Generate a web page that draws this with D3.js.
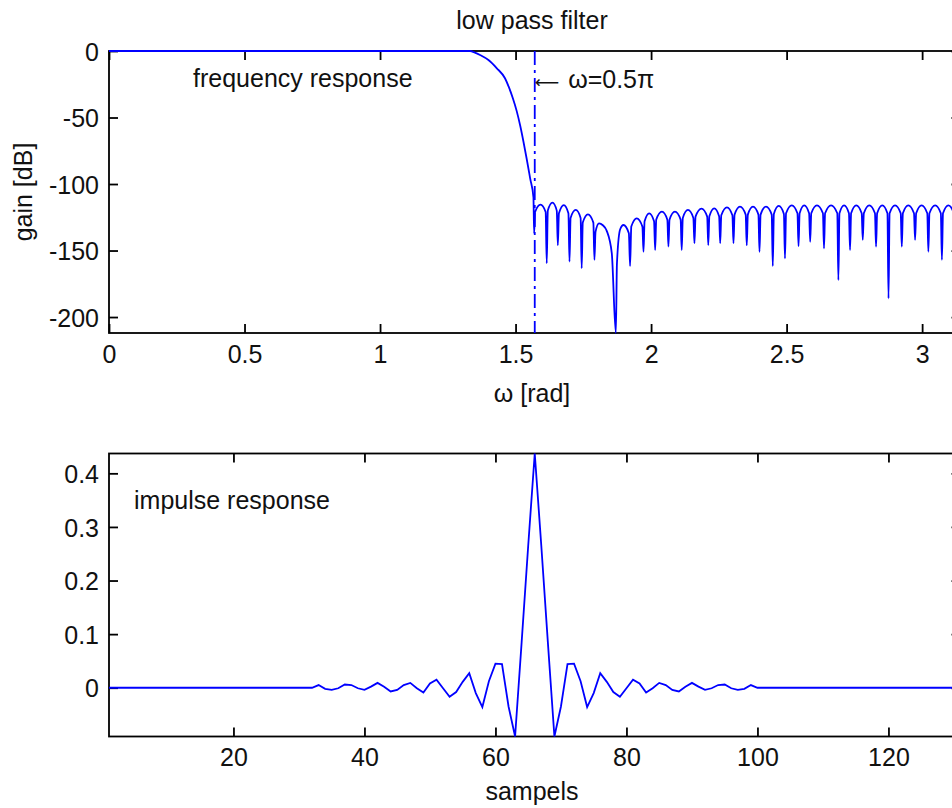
<!DOCTYPE html>
<html>
<head>
<meta charset="utf-8">
<script src="https://cdn.jsdelivr.net/npm/d3@7"></script>
<style>
  body { margin: 0; background: #fff; }
  svg { display: block; background: #fff; }
  text { font-family: "Liberation Sans", Arial, sans-serif; fill: #111; }
</style>
</head>
<body>
<div id="chart"></div>
<script>
// frequency response: [omega (rad), gain (dB)]
const passband = [
  [0, 0], [1.332, 0], [1.350, -1.2], [1.369, -3], [1.400, -6.8], [1.431, -13],
  [1.461, -20.5], [1.475, -27], [1.490, -35.5], [1.504, -45], [1.517, -56],
  [1.529, -68], [1.541, -81], [1.554, -96], [1.566, -110]
];
const stopband = [
  [1.5685, -137], [1.572, -121], [1.592, -115.5], [1.611, -121],
  [1.615, -159.6], [1.619, -120], [1.636, -114], [1.652, -120],
  [1.656, -146], [1.660, -122], [1.678, -115.8], [1.695, -122],
  [1.699, -158.4], [1.703, -125.5], [1.722, -119.5], [1.740, -125.5],
  [1.744, -163.4], [1.748, -129], [1.767, -122.8], [1.787, -129],
  [1.791, -157], [1.795, -136], [1.808, -129.6], [1.822, -131], [1.836, -135], [1.855, -152],
  [1.870, -212], [1.874, -160], [1.886, -134], [1.898, -130.8], [1.918, -137],
  [1.9225, -161.7], [1.927, -132], [1.947, -125.8], [1.968, -132],
  [1.972, -150.9], [1.976, -128], [1.993, -122], [2.011, -128],
  [2.015, -149.6], [2.019, -126.8], [2.040, -120.8], [2.060, -126.8],
  [2.064, -147], [2.068, -126.8], [2.088, -120.8], [2.109, -126.8],
  [2.113, -149.6], [2.117, -125.5], [2.136, -119.5], [2.156, -125.5],
  [2.160, -144.6], [2.164, -124.5], [2.186, -118.5], [2.207, -124.5],
  [2.211, -146], [2.215, -124.3], [2.233, -118.3], [2.251, -124.3],
  [2.255, -144.6], [2.259, -123.5], [2.280, -117.5], [2.300, -123.5],
  [2.304, -144.6], [2.308, -123], [2.328, -117], [2.349, -123],
  [2.353, -146], [2.357, -123], [2.376, -117], [2.396, -123],
  [2.400, -150.9], [2.404, -123], [2.424, -117], [2.445, -123],
  [2.449, -161.7], [2.453, -122.5], [2.471, -116.5], [2.490, -122.5],
  [2.494, -155.9], [2.498, -122], [2.519, -116], [2.540, -122],
  [2.544, -146.6], [2.548, -122], [2.565, -116], [2.583, -122],
  [2.587, -143.4], [2.591, -122], [2.612, -116], [2.634, -122],
  [2.638, -148.4], [2.642, -122], [2.664, -116], [2.687, -122],
  [2.691, -172.2], [2.695, -122], [2.712, -116], [2.730, -122],
  [2.734, -149.6], [2.738, -122], [2.757, -116], [2.777, -122],
  [2.781, -142], [2.785, -122], [2.805, -116], [2.826, -122],
  [2.830, -147], [2.834, -122], [2.853, -116], [2.872, -122],
  [2.876, -186], [2.880, -122], [2.900, -116], [2.921, -122],
  [2.925, -147], [2.929, -122], [2.949, -116], [2.970, -122],
  [2.974, -142], [2.978, -122], [2.998, -116], [3.019, -122],
  [3.023, -150.9], [3.027, -122], [3.048, -116], [3.069, -122],
  [3.073, -157], [3.077, -122], [3.097, -116], [3.117, -122],
  [3.121, -150], [3.125, -122], [3.1416, -116]
];
const cutoff = 0.5 * Math.PI;
const freqTicks = [0, 0.5, 1, 1.5, 2, 2.5, 3];
const gainTicks = [0, -50, -100, -150, -200];

// impulse response: samples 1..131, non-zero taps from 33 to 99
const numSamples = 131;
const firstTap = 33;
const taps = [
  0.005, -0.002, -0.004, -0.001, 0.006, 0.005, -0.001, -0.004, 0.002, 0.009,
  0.002, -0.007, -0.004, 0.005, 0.009, -0.001, -0.009, 0.008, 0.015, -0.001,
  -0.017, -0.008, 0.011, 0.027, -0.010, -0.036, 0.012, 0.045, 0.044, -0.035,
  -0.091, 0.085, 0.265,
  0.437,
  0.265, 0.085, -0.091,
  -0.035, 0.044, 0.045, 0.012, -0.036, -0.010, 0.027, 0.011, -0.008, -0.017,
  -0.001, 0.015, 0.008, -0.009, -0.001, 0.009, 0.005, -0.004, -0.007, 0.002,
  0.009, 0.002, -0.004, -0.001, 0.005, 0.006, -0.001, -0.004, -0.002, 0.005
];
const sampleTicks = [20, 40, 60, 80, 100, 120];
const ampTicks = [0, 0.1, 0.2, 0.3, 0.4];

const width = 952;
const height = 808;
const plotLeft = 109;
const plotRight = 960.5;
const freqBox = {top: 51, bottom: 333};
const impBox = {top: 453.5, bottom: 736.5};
const fontSize = 25;
const blue = '#0000ff';

const svg = d3.select('#chart')
  .append('svg')
    .attr('width', width)
    .attr('height', height);

function drawFrame(xScale, yScale, xTicks, yTicks, box) {
  const g = svg.append('g');
  const styleAxis = sel => {
    sel.select('.domain').remove();
    sel.selectAll('.tick line').attr('stroke', '#000').attr('stroke-width', 1.8);
    sel.selectAll('.tick text')
      .attr('font-size', fontSize)
      .attr('font-family', '"Liberation Sans", Arial, sans-serif')
      .attr('fill', '#111');
  };

  g.append('g')
    .attr('transform', `translate(0,${box.bottom})`)
    .call(d3.axisBottom(xScale).tickValues(xTicks).tickSize(-9).tickPadding(12).tickFormat(d => String(d)))
    .call(styleAxis);

  g.append('g')
    .attr('transform', `translate(0,${box.top})`)
    .call(d3.axisTop(xScale).tickValues(xTicks).tickSize(-9).tickFormat(''))
    .call(styleAxis);

  g.append('g')
    .attr('transform', `translate(${plotLeft},0)`)
    .call(d3.axisLeft(yScale).tickValues(yTicks).tickSize(-9).tickPadding(10).tickFormat(d => String(d)))
    .call(styleAxis)
    .selectAll('.tick text').attr('dy', '0.37em');

  g.append('g')
    .attr('transform', `translate(${plotRight},0)`)
    .call(d3.axisRight(yScale).tickValues(yTicks).tickSize(-9).tickFormat(''))
    .call(styleAxis);

  g.append('rect')
    .attr('x', plotLeft)
    .attr('y', box.top)
    .attr('width', plotRight - plotLeft)
    .attr('height', box.bottom - box.top)
    .attr('fill', 'none')
    .attr('stroke', '#000')
    .attr('stroke-width', 1.8);
}

// ---- frequency response
const freqData = passband.concat(stopband);
const xFreq = d3.scaleLinear().domain([0, Math.PI]).range([plotLeft, plotRight]);
const yGain = d3.scaleLinear()
  .domain(d3.extent(freqData, d => d[1]))
  .range([freqBox.bottom, freqBox.top]);

drawFrame(xFreq, yGain, freqTicks, gainTicks, freqBox);

svg.append('path')
  .datum(freqData)
  .attr('fill', 'none')
  .attr('stroke', blue)
  .attr('stroke-width', 1.8)
  .attr('d', d3.line().x(d => xFreq(d[0])).y(d => yGain(d[1])).curve(d3.curveMonotoneX));

svg.append('line')
  .attr('x1', xFreq(cutoff)).attr('x2', xFreq(cutoff))
  .attr('y1', freqBox.top).attr('y2', freqBox.bottom)
  .attr('stroke', blue)
  .attr('stroke-width', 1.8)
  .attr('stroke-dasharray', '14,5,3,5');

svg.append('text')
  .attr('x', 532).attr('y', 29)
  .attr('text-anchor', 'middle')
  .attr('font-size', fontSize)
  .text('low pass filter');

svg.append('text')
  .attr('x', 193).attr('y', 87)
  .attr('font-size', fontSize)
  .text('frequency response');

const cutoffLabel = svg.append('text')
  .attr('x', xFreq(cutoff)).attr('y', 88)
  .attr('font-size', fontSize);
cutoffLabel.append('tspan')
  .attr('font-family', '"DejaVu Sans", sans-serif')
  .attr('font-size', 17)
  .text('\u27f5');
cutoffLabel.append('tspan')
  .attr('dx', 9)
  .text('\u03c9=0.5\u03c0');

svg.append('text')
  .attr('x', 532).attr('y', 402)
  .attr('text-anchor', 'middle')
  .attr('font-size', fontSize)
  .text('\u03c9 [rad]');

svg.append('text')
  .attr('transform', 'translate(32,192) rotate(-90)')
  .attr('text-anchor', 'middle')
  .attr('font-size', fontSize)
  .text('gain [dB]');

// ---- impulse response
const impulse = d3.range(1, numSamples + 1).map(n => {
  const i = n - firstTap;
  return [n, (i >= 0 && i < taps.length) ? taps[i] : 0];
});
const xSample = d3.scaleLinear().domain([1, numSamples]).range([plotLeft, plotRight]);
const yAmp = d3.scaleLinear()
  .domain(d3.extent(impulse, d => d[1]))
  .range([impBox.bottom, impBox.top]);

drawFrame(xSample, yAmp, sampleTicks, ampTicks, impBox);

svg.append('path')
  .datum(impulse)
  .attr('fill', 'none')
  .attr('stroke', blue)
  .attr('stroke-width', 1.8)
  .attr('d', d3.line().x(d => xSample(d[0])).y(d => yAmp(d[1])));

svg.append('text')
  .attr('x', 134).attr('y', 509)
  .attr('font-size', fontSize)
  .text('impulse response');

svg.append('text')
  .attr('x', 532).attr('y', 800)
  .attr('text-anchor', 'middle')
  .attr('font-size', fontSize)
  .text('sampels');
</script>
</body>
</html>
